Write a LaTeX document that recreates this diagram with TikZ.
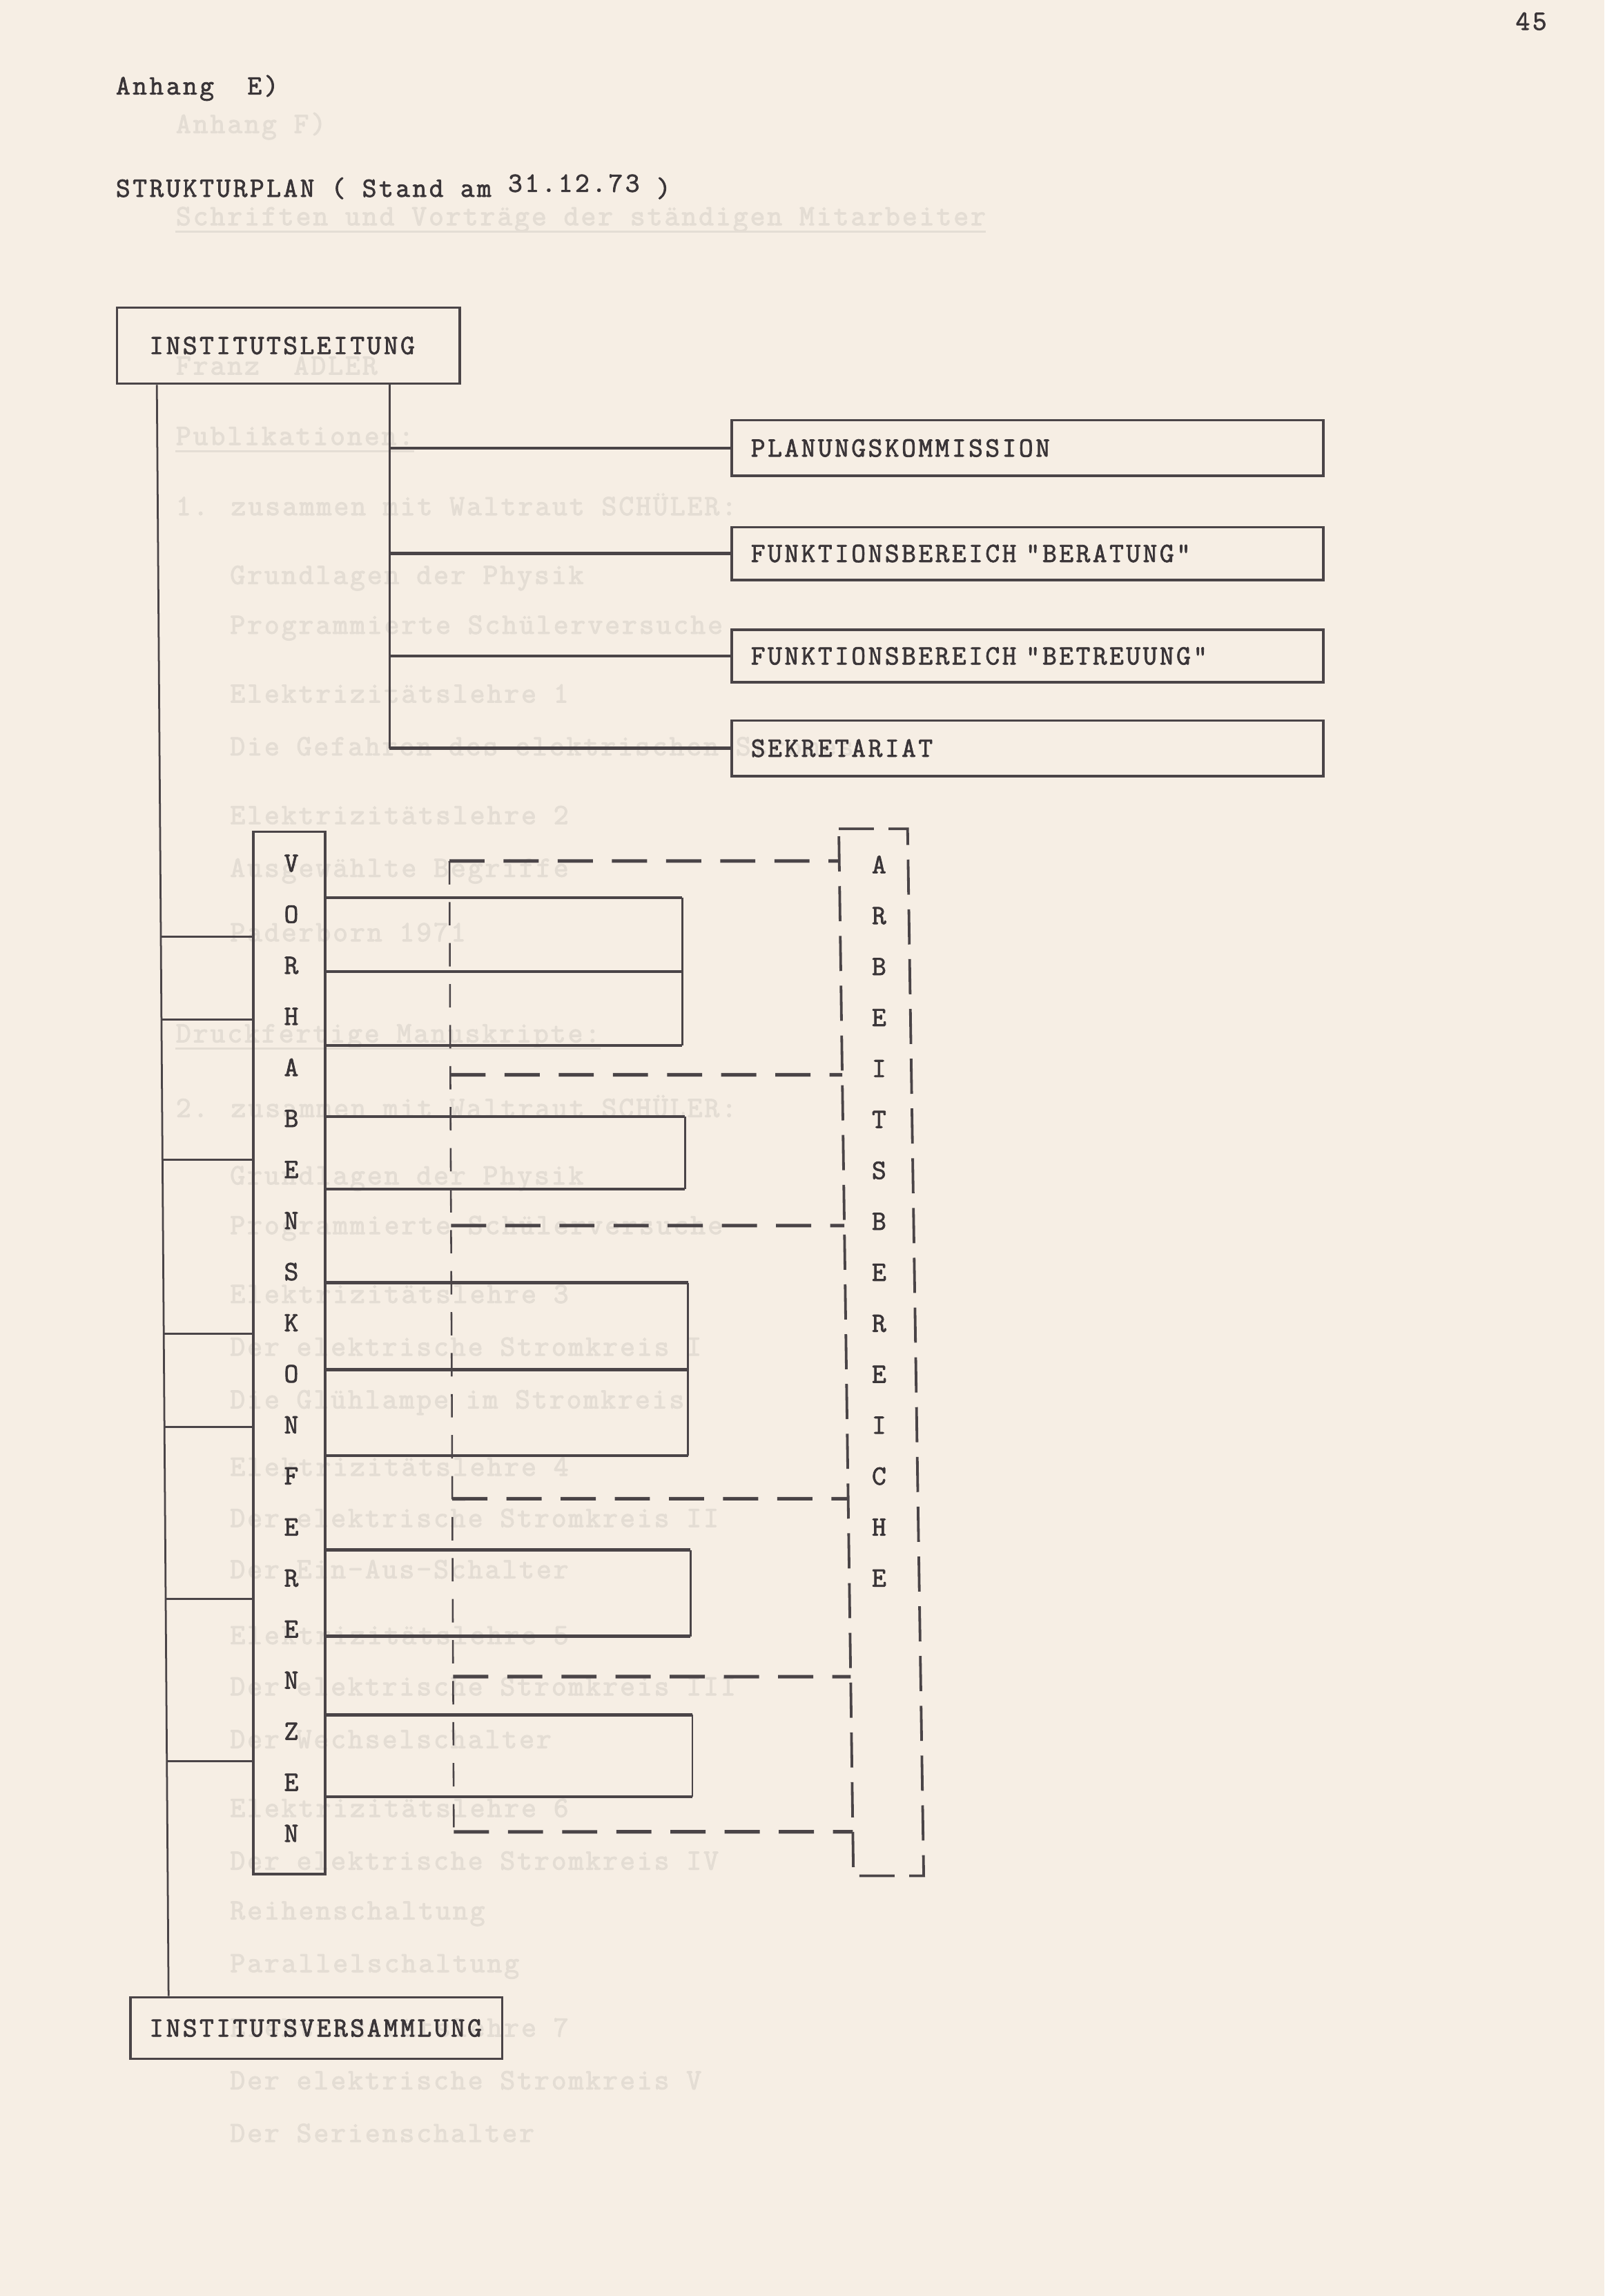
\documentclass[tikz,border=0pt]{standalone}
\usepackage{fontspec}
\newfontfamily\twfont[FakeBold=2,LetterSpace=8.7]{Latin Modern Mono}
\newfontfamily\twfaint[FakeBold=2.5,LetterSpace=7]{Latin Modern Mono}
\usetikzlibrary{calc}
\definecolor{paper}{HTML}{F6EEE4}
\definecolor{ink}{HTML}{4A4447}
\definecolor{inkt}{HTML}{3A3538}
\definecolor{faint}{HTML}{E4DDD4}
\newcommand\twf{\twfont\fontsize{19pt}{22pt}\selectfont}
\newcommand\twff{\twfaint\fontsize{20pt}{22pt}\selectfont}
\begin{document}
\begin{tikzpicture}[x=1pt,y=-1pt,
  tw/.style={font=\twf, text=inkt, inner sep=0pt},
  capht/.style={text height=11.6pt, text depth=0pt},
  boxn/.style={tw, capht, draw=ink, line width=1.7pt, align=left, inner ysep=0pt},
  fainttext/.style={font=\twff, text=faint, inner sep=0pt, capht, anchor=west},
  fl/.style={draw=faint, line width=1.4pt},
  ln/.style={draw=ink, line width=1.3pt},
  br/.style={draw=ink, line width=2.0pt},
  bold/.style={draw=ink, line width=2.2pt},
  dsh/.style={draw=ink, line width=2.4pt, dash pattern=on 24pt off 13pt},
  spine/.style={draw=ink, line width=1.2pt, dash pattern=on 16pt off 12pt},
  abox/.style={draw=ink, line width=1.8pt, dash pattern=on 24pt off 10pt},
  letter/.style={tw, capht},
]
\fill[paper] (0,0) rectangle (1096,1568);
\useasboundingbox (0,0) rectangle (1096,1568);

% ---- faint show-through text of the following page ----
\node[fainttext] (f1) at (120,85) {Anhang F)};
\node[fainttext] (f2) at (120,148) {Schriften und Vorträge der ständigen Mitarbeiter};
\draw[fl] ([yshift=-10pt]f2.west) -- ([yshift=-10pt]f2.east);
\node[fainttext] (f3) at (120,250) {Franz~~ADLER};
\node[fainttext] (f4) at (120,298) {Publikationen:};
\draw[fl] ([yshift=-10pt]f4.west) -- ([yshift=-10pt]f4.east);
\node[fainttext] (f5) at (120,346) {1. zusammen mit Waltraut SCHÜLER:};
\node[fainttext] (f6) at (157,393) {Grundlagen der Physik};
\node[fainttext] (f7) at (157,427) {Programmierte Schülerversuche};
\node[fainttext] (f8) at (157,474) {Elektrizitätslehre 1};
\node[fainttext] (f9) at (157,510) {Die Gefahren des elektrischen Stromes};
\node[fainttext] (f10) at (157,557) {Elektrizitätslehre 2};
\node[fainttext] (f11) at (157,593) {Ausgewählte Begriffe};
\node[fainttext] (f12) at (157,637) {Paderborn 1971};
\node[fainttext] (f13) at (120,706) {Druckfertige Manuskripte:};
\draw[fl] ([yshift=-10pt]f13.west) -- ([yshift=-10pt]f13.east);
\node[fainttext] (f14) at (120,757) {2. zusammen mit Waltraut SCHÜLER:};
\node[fainttext] (f15) at (157,803) {Grundlagen der Physik};
\node[fainttext] (f16) at (157,837) {Programmierte Schülerversuche};
\node[fainttext] (f17) at (157,884) {Elektrizitätslehre 3};
\node[fainttext] (f18) at (157,920) {Der elektrische Stromkreis I};
\node[fainttext] (f19) at (157,956) {Die Glühlampe im Stromkreis};
\node[fainttext] (f20) at (157,1002) {Elektrizitätslehre 4};
\node[fainttext] (f21) at (157,1037) {Der elektrische Stromkreis II};
\node[fainttext] (f22) at (157,1072) {Der Ein-Aus-Schalter};
\node[fainttext] (f23) at (157,1117) {Elektrizitätslehre 5};
\node[fainttext] (f24) at (157,1152) {Der elektrische Stromkreis III};
\node[fainttext] (f25) at (157,1188) {Der Wechselschalter};
\node[fainttext] (f26) at (157,1235) {Elektrizitätslehre 6};
\node[fainttext] (f27) at (157,1271) {Der elektrische Stromkreis IV};
\node[fainttext] (f28) at (157,1305) {Reihenschaltung};
\node[fainttext] (f29) at (157,1341) {Parallelschaltung};
\node[fainttext] (f30) at (157,1385) {Elektrizitätslehre 7};
\node[fainttext] (f31) at (157,1421) {Der elektrische Stromkreis V};
\node[fainttext] (f32) at (157,1457) {Der Serienschalter};

% ---- header ----
\node[tw, anchor=base] (pg) at (1046,20.4) {45};
\node[tw, anchor=base west] (anh) at (79,64.5) {Anhang~~E)};
\node[tw, anchor=base west] (titel) at (79,134.4) {STRUKTURPLAN ( Stand am \raisebox{3.4pt}{31.12.73} )};

% ---- boxes ----
\node[boxn, minimum height=52pt, text width=190pt, inner xsep=22pt] (il) at (197,236) {INSTITUTSLEITUNG};
\node[boxn, minimum height=38pt, text width=378pt, inner xsep=13pt] (pk) at (702,306) {PLANUNGSKOMMISSION};
\node[boxn, minimum height=36pt, text width=378pt, inner xsep=13pt] (fb) at (702,378) {FUNKTIONSBEREICH "BERATUNG"};
\node[boxn, minimum height=36pt, text width=378pt, inner xsep=13pt] (fbt) at (702,448) {FUNKTIONSBEREICH "BETREUUNG"};
\node[boxn, minimum height=38pt, text width=378pt, inner xsep=13pt] (sk) at (702,511) {SEKRETARIAT};
\node[boxn, minimum height=42pt, text width=228pt, inner xsep=13pt] (iv) at (216,1385) {INSTITUTSVERSAMMLUNG};

% Vorhabenskonferenzen box
\node[draw=ink, line width=1.8pt, minimum width=49pt, minimum height=712pt, inner sep=0pt] (vb) at (197.5,924) {};
\foreach \l [count=\i] in {V,O,R,H,A,B,E,N,S,K,O,N,F,E,R,E,N,Z,E,N}
  \node[letter] (v\i) at (199,{589.5+(\i-1)*34.87}) {\l};

% Arbeitsbereiche box (dashed)
\coordinate (atl) at (573,566);
\coordinate (atr) at (620,566);
\coordinate (abr) at (631,1281);
\coordinate (abl) at (583,1281);
\draw[abox] (atl) -- (atr) -- (abr) -- (abl) -- cycle;
\foreach \l [count=\i] in {A,R,B,E,I,T,S,B,E,R,E,I,C,H,E}
  \node[letter] (a\i) at (600.5,{590.5+(\i-1)*34.8}) {\l};

% ---- trunks from Institutsleitung ----
\coordinate (ltTop) at ($(il.south west)+(28,0)$);
\coordinate (ltBot) at ($(iv.north west)+(27,0)$);
\draw[ln] (ltTop) -- (ltBot);
\path (ltTop) -- (ltBot)
  coordinate[pos=0.3424] (r1) coordinate[pos=0.3940] (r2)
  coordinate[pos=0.4810] (r3) coordinate[pos=0.5888] (r4)
  coordinate[pos=0.6467] (r5) coordinate[pos=0.7536] (r6)
  coordinate[pos=0.8542] (r7);
\foreach \i in {1,...,7} \draw[ln] (r\i) -- (r\i -| vb.west);

\coordinate (rtTop) at ($(il.south west)+(187,0)$);
\draw[ln] (rtTop) -- (rtTop |- sk.west);
\draw[br] (rtTop |- pk.west) -- (pk.west);
\draw[br] (rtTop |- fb.west) -- (fb.west);
\draw[br] (rtTop |- fbt.west) -- (fbt.west);
\draw[br] (rtTop |- sk.west) -- (sk.west);

% ---- dashed spine and dashed links to Arbeitsbereiche ----
\coordinate (st) at (307,588);
\coordinate (sb) at (310,1251);
\draw[spine] (st) -- (sb);
\draw[dsh] (st) -- ($(atl)!0.0308!(abl)$);
\draw[dsh] ($(st)!0.2202!(sb)$) -- ($(atl)!0.2350!(abl)$);
\draw[dsh] ($(st)!0.3756!(sb)$) -- ($(atl)!0.3790!(abl)$);
\draw[dsh] ($(st)!0.6569!(sb)$) -- ($(atl)!0.6399!(abl)$);
\draw[dsh] ($(st)!0.8401!(sb)$) -- ($(atl)!0.8098!(abl)$);
\draw[dsh] (sb) -- ($(atl)!0.9580!(abl)$);

% ---- solid groups from Vorhabenskonferenzen ----
\draw[bold] (vb.east |- 0,613) -- (466,613);
\draw[bold] (vb.east |- 0,663.5) -- (466,663.5);
\draw[bold] (vb.east |- 0,714) -- (466,714);
\draw[ln] (466,613) -- (466,714);
\draw[bold] (vb.east |- 0,762.5) -- (468,762.5);
\draw[bold] (vb.east |- 0,812) -- (468,812);
\draw[ln] (468,762.5) -- (468,812);
\draw[bold] (vb.east |- 0,876) -- (470,876);
\draw[bold] (vb.east |- 0,935.5) -- (470,935.5);
\draw[bold] (vb.east |- 0,994) -- (470,994);
\draw[ln] (470,876) -- (470,994);
\draw[bold] (vb.east |- 0,1058.6) -- (471.7,1058.6);
\draw[bold] (vb.east |- 0,1117.5) -- (471.7,1117.5);
\draw[ln] (471.7,1058.6) -- (471.7,1117.5);
\draw[bold] (vb.east |- 0,1171) -- (473,1171);
\draw[bold] (vb.east |- 0,1227) -- (473,1227);
\draw[ln] (473,1171) -- (473,1227);
\end{tikzpicture}
\end{document}
